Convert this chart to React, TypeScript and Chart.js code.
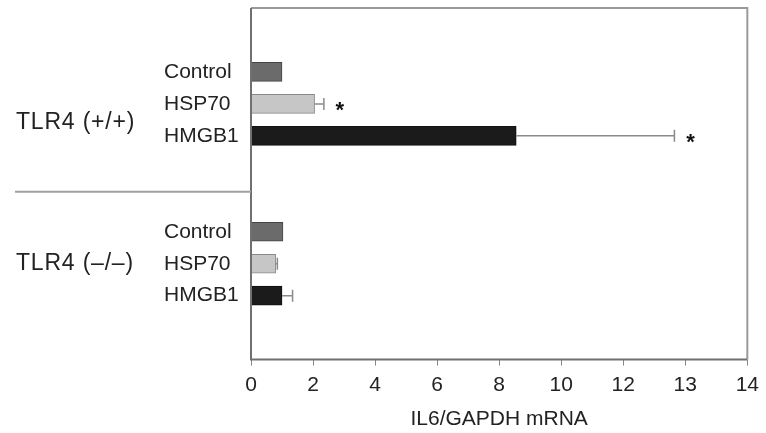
import React, { useEffect, useRef } from "react";
import { Chart, registerables } from "chart.js";

Chart.register(...registerables);

// ---- Data ----
const categories = ["Control", "HSP70", "HMGB1"];
const groups = ["TLR4 (+/+)", "TLR4 (–/–)"];
const plusMeans = [1.0, 2.05, 8.55];
const plusErr = [0, 0.3, 5.1];
const plusSig = [false, true, true];
const minusMeans = [1.03, 0.8, 1.0];
const minusErr = [0, 0.05, 0.34];
const minusSig = [false, false, false];
const xTickLabels = ["0", "2", "4", "6", "8", "10", "12", "13", "14"];
const xTitle = "IL6/GAPDH mRNA";

const catFill = ["#6b6b6b", "#c6c6c6", "#1b1b1b"];
const catBorder = ["#454545", "#8a8a8a", "#111111"];

// slot layout of the category axis (blank slots around groups)
const groupStart = [2, 7];
const slotCount = 12;
const groupLabelSlot = [3.6, 8.0];
const separatorSlot = 5.75;

const FONT = "'Liberation Sans', Arial, Helvetica, sans-serif";

export default function App() {
  const ref = useRef<HTMLCanvasElement | null>(null);

  useEffect(() => {
    if (!ref.current) return;

    const labels: string[] = new Array(slotCount).fill("");
    const values: (number | null)[] = new Array(slotCount).fill(null);
    const errs: number[] = new Array(slotCount).fill(0);
    const sig: boolean[] = new Array(slotCount).fill(false);
    const fills: string[] = new Array(slotCount).fill("#000");
    const borders: string[] = new Array(slotCount).fill("#000");
    const groupData = [
      [plusMeans, plusErr, plusSig],
      [minusMeans, minusErr, minusSig],
    ] as const;
    groupStart.forEach((s, g) => {
      categories.forEach((c, i) => {
        labels[s + i] = c;
        values[s + i] = (groupData[g][0] as number[])[i];
        errs[s + i] = (groupData[g][1] as number[])[i];
        sig[s + i] = (groupData[g][2] as boolean[])[i];
        fills[s + i] = catFill[i];
        borders[s + i] = catBorder[i];
      });
    });

    const decor = {
      id: "decor",
      afterDatasetsDraw(chart: any) {
        const ctx = chart.ctx;
        const xs = chart.scales.x;
        const ys = chart.scales.y;
        const area = chart.chartArea;
        ctx.save();
        // error bars
        values.forEach((v, i) => {
          if (v === null) return;
          const yc = ys.getPixelForValue(i);
          const x0 = xs.getPixelForValue(v);
          const x1 = xs.getPixelForValue(v + errs[i]);
          if (errs[i] > 0) {
            ctx.strokeStyle = "#8a8a8a";
            ctx.lineWidth = 1.5;
            ctx.beginPath();
            ctx.moveTo(x0, yc);
            ctx.lineTo(x1, yc);
            ctx.moveTo(x1, yc - 6);
            ctx.lineTo(x1, yc + 6);
            ctx.stroke();
          }
          if (sig[i]) {
            ctx.fillStyle = "#111";
            ctx.font = `bold 22px ${FONT}`;
            ctx.textAlign = "center";
            ctx.textBaseline = "alphabetic";
            ctx.fillText("*", x1 + 16, yc + 13);
          }
        });
        // frame
        ctx.lineWidth = 2;
        ctx.strokeStyle = "#9a9a9a";
        ctx.beginPath();
        ctx.moveTo(area.left, area.top);
        ctx.lineTo(area.right, area.top);
        ctx.lineTo(area.right, area.bottom);
        ctx.stroke();
        ctx.strokeStyle = "#707070";
        ctx.beginPath();
        ctx.moveTo(area.left, area.top);
        ctx.lineTo(area.left, area.bottom);
        ctx.lineTo(area.right, area.bottom);
        ctx.stroke();
        // separator
        const sy = ys.getPixelForValue(separatorSlot);
        ctx.strokeStyle = "#a0a0a0";
        ctx.lineWidth = 2;
        ctx.beginPath();
        ctx.moveTo(15, sy);
        ctx.lineTo(area.left, sy);
        ctx.stroke();
        // group labels
        ctx.fillStyle = "#222";
        ctx.font = `23px ${FONT}`;
        (ctx as any).letterSpacing = "0.8px";
        ctx.textAlign = "left";
        ctx.textBaseline = "middle";
        groups.forEach((g, i) => {
          ctx.fillText(g, 16, ys.getPixelForValue(groupLabelSlot[i]));
        });
        ctx.restore();
      },
    };

    const chart = new Chart(ref.current, {
      type: "bar",
      data: {
        labels,
        datasets: [
          {
            data: values,
            backgroundColor: fills,
            borderColor: borders,
            borderWidth: 1,
            barThickness: 19,
          },
        ],
      },
      options: {
        indexAxis: "y",
        animation: false,
        responsive: true,
        maintainAspectRatio: false,
        layout: { padding: { left: 164, top: 8, right: 16, bottom: 0 } },
        plugins: { legend: { display: false }, tooltip: { enabled: false } },
        scales: {
          x: {
            type: "linear",
            min: 0,
            max: 16,
            ticks: {
              stepSize: 2,
              padding: 7,
              color: "#222",
              font: { family: FONT, size: 21 },
              callback: (_v: any, i: number) => xTickLabels[i],
            },
            grid: {
              display: true,
              drawOnChartArea: false,
              drawTicks: true,
              tickLength: 6,
              color: "#888",
            },
            border: { display: false },
            title: {
              display: true,
              text: xTitle,
              color: "#222",
              font: { family: FONT, size: 21 },
              padding: { top: 2, bottom: 1 },
            },
          },
          y: {
            type: "category",
            offset: false,
            grid: { display: false, offset: false },
            border: { display: false },
            ticks: {
              color: "#222",
              font: { family: FONT, size: 21 },
              crossAlign: "far",
              padding: 0,
              autoSkip: false,
            },
            afterFit: (scale: any) => {
              scale.width = 87;
              scale.paddingTop = 0;
              scale.paddingBottom = 0;
            },
          },
        },
      },
      plugins: [decor],
    });
    return () => chart.destroy();
  }, []);

  return (
    <div style={{ position: "fixed", left: 0, top: 0, width: 766, height: 433, background: "#fff" }}>
      <canvas ref={ref} />
    </div>
  );
}
